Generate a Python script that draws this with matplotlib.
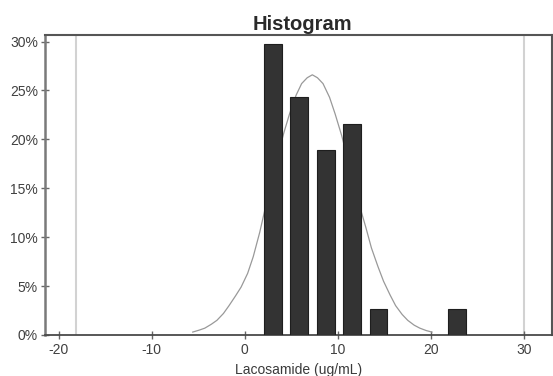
import matplotlib
matplotlib.use("Agg")
import matplotlib.pyplot as plt
from matplotlib.ticker import FuncFormatter

# ---- data ----
bin_centers = [3.05, 5.85, 8.7, 11.5, 14.35, 22.8]
bin_percent = [29.7, 24.3, 18.9, 21.6, 2.7, 2.7]
bar_width = 1.9

curve_x = [-5.6, -4.9, -4.3, -3.6, -3.0, -2.3, -1.7, -1.0, -0.4, 0.3, 0.9,
           1.6, 2.2, 2.9, 3.5, 4.2, 4.8, 5.5, 6.1, 6.7, 7.25, 7.8, 8.4,
           9.1, 9.7, 10.4, 11.0, 11.7, 12.3, 13.0, 13.6, 14.3, 14.9, 15.6,
           16.2, 16.9, 17.5, 18.2, 18.8, 19.5, 20.1]
curve_y = [0.3, 0.5, 0.7, 1.1, 1.5, 2.2, 3.0, 4.0, 4.9, 6.3, 8.0,
           10.5, 13.0, 15.8, 18.2, 20.7, 22.6, 24.5, 25.7, 26.3, 26.6, 26.3, 25.7,
           24.3, 22.6, 20.4, 18.2, 15.6, 13.3, 11.0, 8.9, 7.0, 5.5, 4.1,
           3.0, 2.1, 1.5, 1.0, 0.7, 0.45, 0.3]

limit_lines = [-18.1, 30.0]

x_ticks = [-20, -10, 0, 10, 20, 30]
y_ticks = [0, 5, 10, 15, 20, 25, 30]

title = "Histogram"
x_label = "Lacosamide (ug/mL)"

plt.rcParams['font.family'] = ['Liberation Sans', 'DejaVu Sans']
plt.rcParams['axes.unicode_minus'] = False

fig = plt.figure(figsize=(5.53, 3.76), dpi=100)
ax = fig.add_axes([45/553, 1-335/376, (552-45)/553, (335-35)/376])

for xv in limit_lines:
    ax.axvline(xv, color='#d2d2d2', lw=1.5, zorder=1)

ax.plot(curve_x, curve_y, color='#999999', lw=0.9, zorder=2)
ax.bar(bin_centers, bin_percent, width=bar_width, color='#333333',
       edgecolor='#1e1e1e', linewidth=0.8, zorder=3)

ax.set_xlim(-21.47, 33.0)
ax.set_ylim(0, 30.67)
ax.set_xticks(x_ticks)
ax.set_yticks(y_ticks)
ax.yaxis.set_major_formatter(FuncFormatter(lambda v, p: f"{int(v)}%"))

ax.tick_params(axis='both', direction='inout', length=6, width=1,
               color='#666666', labelcolor='#404040', labelsize=10)
ax.tick_params(axis='x', pad=3)
ax.tick_params(axis='y', pad=2)

for side in ['top', 'right']:
    ax.spines[side].set_color('#555555')
    ax.spines[side].set_linewidth(1.5)
ax.spines['left'].set_color('#7a7a7a')
ax.spines['left'].set_linewidth(1.8)
ax.spines['bottom'].set_color('#4a4a4a')
ax.spines['bottom'].set_linewidth(1.3)

ax.set_title(title, fontsize=14.5, fontweight='bold', color='#2a2a2a',
             pad=3.5, x=0.507)
ax.set_xlabel(x_label, fontsize=10, color='#3a3a3a', labelpad=4)

fig.savefig("out.png", dpi=100)
